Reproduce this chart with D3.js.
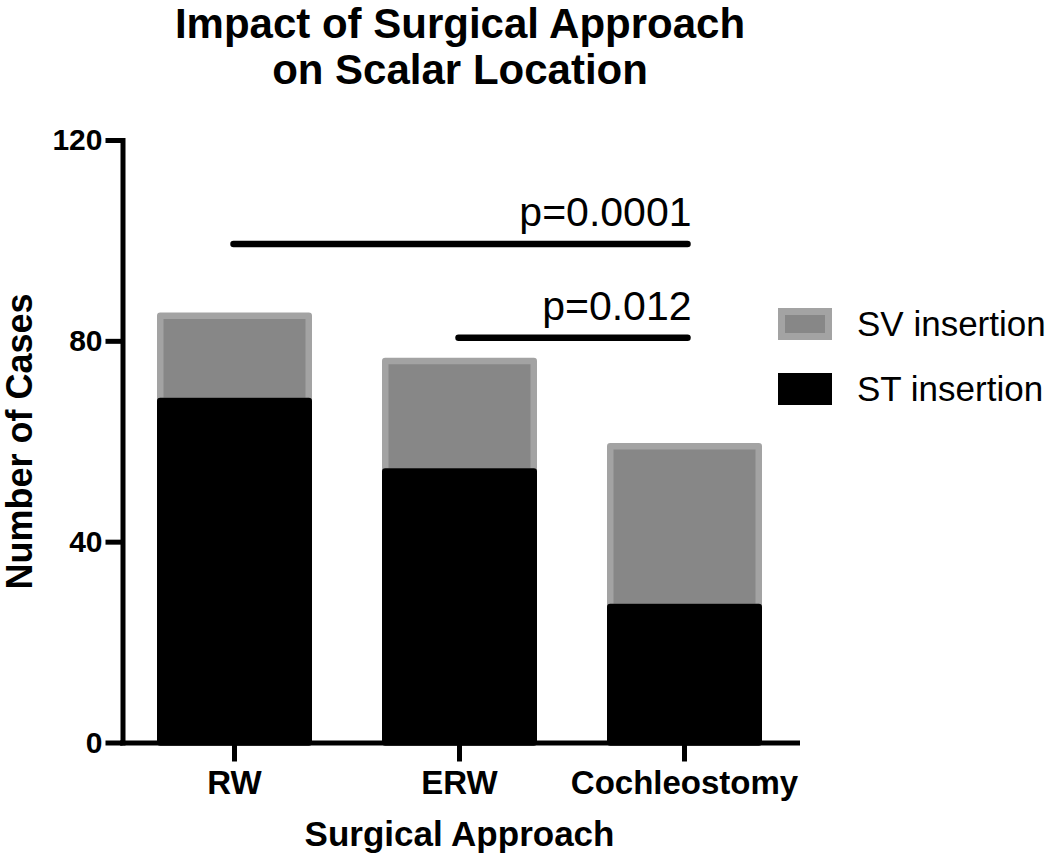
<!DOCTYPE html>
<html>
<head>
<meta charset="utf-8">
<script src="https://cdn.jsdelivr.net/npm/d3@7"></script>
<style>
  html, body { margin: 0; padding: 0; background: #fff; }
  svg { display: block; font-family: "Liberation Sans", Arial, sans-serif; }
</style>
</head>
<body>
<svg id="chart" width="1050" height="858"></svg>
<script>
// ---- data ----
const categories = ["RW", "ERW", "Cochleostomy"];
const stInsertion = [68, 54, 27];
const svInsertion = [17, 22, 32];
const seriesNames = ["SV insertion", "ST insertion"];
const yTickValues = [0, 40, 80, 120];
const sigFrom = ["RW", "ERW"];
const sigTo = ["Cochleostomy", "Cochleostomy"];
const sigLevel = [99.3, 80.6];
const sigLabels = ["p=0.0001", "p=0.012"];
const titleLines = ["Impact of Surgical Approach", "on Scalar Location"];

// ---- styles ----
const svFill = "#878787", svStroke = "#a3a3a3", stFill = "#000";

const svg = d3.select("#chart");
svg.append("rect").attr("width", 1050).attr("height", 858).attr("fill", "#fff");

const x = d3.scaleBand().domain(categories).range([122, 797]).paddingInner(0.34).paddingOuter(0.17);
const y = d3.scaleLinear().domain([0, 120]).range([742.5, 140]);

const rows = categories.map((c, i) => ({ cat: c, ST: stInsertion[i], SV: svInsertion[i] }));
const stack = d3.stack().keys(["ST", "SV"])(rows);

// bars: SV on top first (so ST draws over its bottom border)
const g = svg.append("g");
g.selectAll("rect.sv").data(stack[1]).join("rect")
  .attr("class", "sv")
  .attr("x", d => x(d.data.cat))
  .attr("width", x.bandwidth())
  .attr("y", d => y(d[1]))
  .attr("height", d => y(d[0]) - y(d[1]))
  .attr("fill", svFill).attr("stroke", svStroke)
  .attr("stroke-width", 6.5).attr("stroke-linejoin", "round");

g.selectAll("rect.st").data(stack[0]).join("rect")
  .attr("class", "st")
  .attr("x", d => x(d.data.cat))
  .attr("width", x.bandwidth())
  .attr("y", d => y(d[1]))
  .attr("height", d => y(d[0]) - y(d[1]))
  .attr("fill", stFill).attr("stroke", stFill)
  .attr("stroke-width", 6.5).attr("stroke-linejoin", "round");

// axes
const yAxis = svg.append("g").attr("transform", "translate(122.5,0)")
  .call(d3.axisLeft(y).tickValues(yTickValues).tickSize(17).tickSizeOuter(0).tickPadding(3));
yAxis.select(".domain").attr("stroke-width", 5).attr("stroke-linecap", "square");
yAxis.selectAll(".tick line").attr("stroke-width", 5);
yAxis.selectAll(".tick text").attr("font-size", 30).attr("font-weight", "bold")
  .attr("font-family", "Liberation Sans, Arial, sans-serif").attr("fill", "#000");

const xAxis = svg.append("g").attr("transform", "translate(0,742.5)")
  .call(d3.axisBottom(x).tickSize(19).tickSizeOuter(0).tickPadding(9));
xAxis.select(".domain").attr("stroke-width", 5).attr("stroke-linecap", "square");
xAxis.selectAll(".tick line").attr("stroke-width", 5);
xAxis.selectAll(".tick text").attr("font-size", 33).attr("font-weight", "bold")
  .attr("font-family", "Liberation Sans, Arial, sans-serif").attr("fill", "#000");

// significance lines
const sig = sigFrom.map((f, i) => ({ from: f, to: sigTo[i], level: sigLevel[i], label: sigLabels[i] }));
const cx = c => x(c) + x.bandwidth() / 2;
svg.selectAll("line.sig").data(sig).join("line")
  .attr("x1", d => cx(d.from) - 1).attr("x2", d => cx(d.to) + 3)
  .attr("y1", d => y(d.level)).attr("y2", d => y(d.level))
  .attr("stroke", "#000").attr("stroke-width", 6.5).attr("stroke-linecap", "round");
svg.selectAll("text.sig").data(sig).join("text")
  .attr("x", d => cx(d.to) + 7).attr("y", d => y(d.level) - 18)
  .attr("text-anchor", "end").attr("font-size", 41).attr("fill", "#000")
  .text(d => d.label);

// titles
svg.selectAll("text.title").data(titleLines).join("text")
  .attr("x", 460).attr("y", (d, i) => 38 + i * 46)
  .attr("text-anchor", "middle").attr("font-size", 42).attr("font-weight", "bold")
  .text(d => d);

svg.append("text").attr("transform", "translate(32,441.5) rotate(-90)")
  .attr("text-anchor", "middle").attr("font-size", 36).attr("font-weight", "bold")
  .text("Number of Cases");

svg.append("text").attr("x", 459.5).attr("y", 846)
  .attr("text-anchor", "middle").attr("font-size", 35).attr("font-weight", "bold")
  .text("Surgical Approach");

// legend
const leg = svg.append("g");
const legY = [324, 389];
seriesNames.forEach((name, i) => {
  if (i === 0) {
    leg.append("rect").attr("x", 781.5).attr("y", legY[i] - 12.5).attr("width", 47).attr("height", 25)
      .attr("fill", svFill).attr("stroke", svStroke).attr("stroke-width", 7);
  } else {
    leg.append("rect").attr("x", 778).attr("y", legY[i] - 16).attr("width", 54).attr("height", 32)
      .attr("fill", stFill);
  }
  leg.append("text").attr("x", 857).attr("y", legY[i] + 12)
    .attr("font-size", 35).attr("fill", "#000").text(name);
});
</script>
</body>
</html>
